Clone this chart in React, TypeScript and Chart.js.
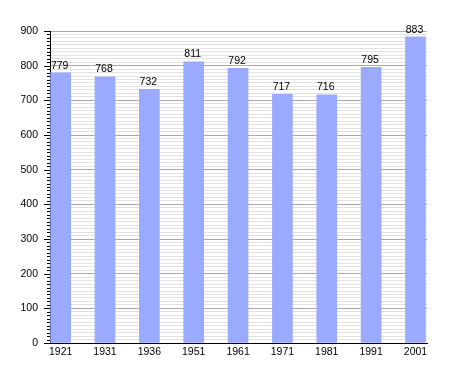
import React, { useEffect, useRef } from "react";
import { Chart, registerables } from "chart.js";

Chart.register(...registerables);

const years = ["1921", "1931", "1936", "1951", "1961", "1971", "1981", "1991", "2001"];
const population = [779, 768, 732, 811, 792, 717, 716, 795, 883];
const yMax = 900;
const majorStep = 100;
const minorStep = 10;

const BAR_COLOR = "#99aaff";
const FONT = "'Liberation Sans', Arial, sans-serif";

export default function App() {
  const ref = useRef<HTMLCanvasElement | null>(null);

  useEffect(() => {
    document.body.style.margin = "0";
    const canvas = ref.current;
    if (!canvas) return;

    const valueLabels = {
      id: "valueLabels",
      afterDatasetsDraw(chart: any) {
        const ctx = chart.ctx;
        const meta = chart.getDatasetMeta(0);
        ctx.save();
        ctx.fillStyle = "#000";
        ctx.font = `10.5px ${FONT}`;
        ctx.textAlign = "center";
        ctx.textBaseline = "bottom";
        meta.data.forEach((el: any, i: number) => {
          ctx.fillText(String(population[i]), el.x - 1, el.y - 2);
        });
        ctx.restore();
      },
    };

    const yTickMarks = {
      id: "yTickMarks",
      afterDraw(chart: any) {
        const ctx = chart.ctx;
        const y = chart.scales.y;
        const left = chart.chartArea.left;
        ctx.save();
        ctx.strokeStyle = "#000";
        ctx.lineWidth = 1;
        for (let v = 0; v <= yMax; v += minorStep) {
          const py = Math.round(y.getPixelForValue(v)) + 0.5;
          const len = v % majorStep === 0 ? 6 : 3;
          ctx.beginPath();
          ctx.moveTo(left - len, py);
          ctx.lineTo(left, py);
          ctx.stroke();
        }
        ctx.restore();
      },
    };

    const chart = new Chart(canvas, {
      type: "bar",
      data: {
        datasets: [
          {
            data: population.map((v, i) => ({ x: i, y: v })),
            backgroundColor: BAR_COLOR,
            borderWidth: 0,
            barThickness: 20,
          },
        ],
      },
      options: {
        responsive: false,
        animation: false,
        layout: { padding: { left: 0, right: 28, top: 31, bottom: 0 } },
        plugins: {
          legend: { display: false },
          tooltip: { enabled: false },
          title: { display: false },
        },
        scales: {
          x: {
            type: "linear",
            offset: false,
            min: -0.24,
            max: 8.26,
            afterBuildTicks: (scale: any) => {
              scale.ticks = years.map((_, i) => ({ value: i }));
            },
            afterFit: (scale: any) => {
              scale.height = 30;
            },
            ticks: {
              autoSkip: false,
              maxRotation: 0,
              padding: 3,
              color: "#000",
              font: { family: FONT, size: 10.5 },
              callback: (v: any) => years[v] ?? "",
            },
            grid: { display: false, drawTicks: false, offset: false },
            border: { display: true, color: "#000", width: 1 },
          },
          y: {
            min: 0,
            max: yMax,
            afterFit: (scale: any) => {
              scale.width = 50;
            },
            ticks: {
              stepSize: minorStep,
              autoSkip: false,
              padding: 12,
              color: "#000",
              font: { family: FONT, size: 10.5 },
              callback: (v: any) => (Number(v) % majorStep === 0 ? String(v) : ""),
            },
            grid: {
              drawTicks: false,
              color: (ctx: any) =>
                ctx.tick && ctx.tick.value % majorStep === 0 ? "#a8a8a8" : "#e2e2e2",
              lineWidth: 1,
            },
            border: { display: true, color: "#000", width: 1 },
          },
        },
      },
      plugins: [valueLabels, yTickMarks],
    });

    return () => chart.destroy();
  }, []);

  return (
    <div style={{ width: 455, height: 373, background: "#fff" }}>
      <canvas ref={ref} width={455} height={373} />
    </div>
  );
}
